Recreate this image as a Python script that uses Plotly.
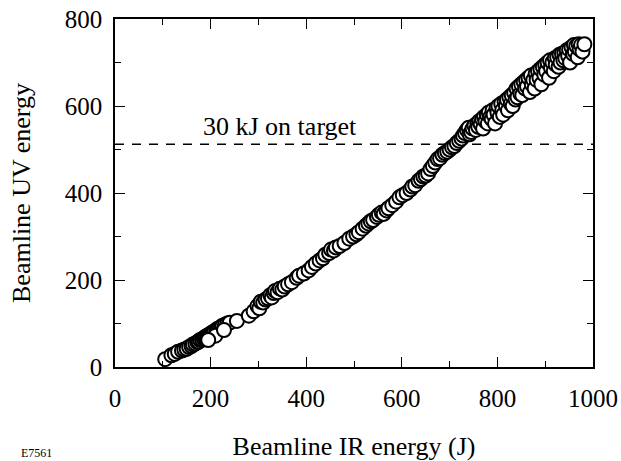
import plotly.graph_objects as go

ir_energy = [105, 118, 125, 132, 140, 145, 150, 155, 160, 163, 168, 172, 175, 178, 182, 185, 188, 190, 193, 196,
             199, 202, 205, 208, 212, 215, 218, 222, 225, 230, 235, 240, 255, 210, 228, 195,
             280, 290, 298, 302, 305, 310, 315, 320, 325, 328, 332, 335, 340, 345, 350, 355, 362, 370, 380, 385,
             395, 405, 412, 420, 428, 435, 440, 448, 452, 458, 462, 470, 480, 490, 498, 505, 510, 518, 525, 530,
             535, 540, 548, 552, 558, 562, 568, 572, 580, 588, 595, 602, 610, 618, 622, 628, 635, 640, 645, 650,
             655, 660, 665, 670, 675, 680, 685, 690, 695, 700, 705, 710, 715, 720, 725, 728, 732, 736, 740, 742,
             745, 748, 752, 755, 758, 760, 762, 765, 768, 770, 772, 775, 778, 780, 782, 785, 788, 790, 792, 795,
             798, 800, 802, 805, 808, 810, 812, 815, 818, 820, 822, 825, 828, 830, 832, 835, 838, 840, 842, 845,
             848, 850, 852, 855, 858, 860, 862, 865, 868, 870, 872, 875, 878, 880, 882, 885, 888, 890, 892, 895,
             898, 900, 902, 905, 908, 910, 912, 915, 918, 920, 922, 925, 928, 930, 932, 935, 938, 940, 942, 945,
             948, 950, 952, 955, 958, 960, 962, 965, 968, 970, 972, 975, 978, 982, 1005]

uv_energy = [18, 27, 30, 35, 38, 40, 42, 46, 48, 52, 54, 57, 58, 62, 63, 66, 68, 70, 72, 73,
             76, 78, 80, 82, 85, 88, 88, 92, 95, 97, 100, 102, 106, 72, 85, 62,
             118, 128, 140, 135, 150, 148, 155, 158, 165, 160, 170, 175, 172, 180, 178, 185, 190, 195, 205, 210,
             215, 222, 230, 238, 245, 250, 258, 262, 270, 268, 275, 278, 285, 295, 300, 305, 310, 318, 325, 330,
             335, 338, 345, 350, 355, 352, 360, 365, 372, 380, 390, 395, 400, 408, 415, 418, 428, 432, 438, 440,
             445, 455, 462, 470, 478, 480, 488, 492, 495, 500, 505, 508, 515, 520, 525, 532, 538, 545, 550, 535,
             540, 548, 555, 545, 560, 552, 565, 558, 570, 548, 575, 565, 580, 560, 585, 575, 570, 590, 580, 560,
             595, 585, 600, 575, 605, 590, 580, 610, 600, 615, 590, 620, 605, 625, 600, 630, 615, 640, 620, 645,
             628, 650, 625, 655, 640, 660, 645, 665, 632, 670, 650, 660, 640, 675, 660, 680, 665, 685, 650, 690,
             672, 695, 680, 700, 665, 705, 688, 700, 680, 710, 695, 712, 690, 718, 700, 720, 705, 722, 710, 728,
             715, 730, 700, 735, 720, 740, 725, 738, 712, 742, 730, 740, 725, 742, 735]

threshold_uv = 512
x_ticks = [0, 200, 400, 600, 800, 1000]
y_ticks = [0, 200, 400, 600, 800]

serif = "Liberation Serif"

fig = go.Figure()
fig.add_trace(go.Scatter(
    x=ir_energy, y=uv_energy, mode="markers", cliponaxis=False,
    marker=dict(size=14, color="white", line=dict(color="black", width=2)),
    showlegend=False, hoverinfo="x+y"))

fig.add_shape(type="line", xref="x", yref="y", x0=0, x1=1000, y0=threshold_uv, y1=threshold_uv,
              line=dict(color="black", width=1.5, dash="9px,8px"), layer="below")

fig.add_annotation(x=180, y=552, xref="x", yref="y", text="30 kJ on target", showarrow=False,
                   xanchor="left", yanchor="middle", font=dict(family=serif, size=26, color="black"))

fig.add_annotation(x=-0.199, y=-0.27, xref="paper", yref="paper", text="E7561", showarrow=False,
                   xanchor="left", yanchor="bottom", borderpad=0, font=dict(family=serif, size=12, color="black"))

axis_common = dict(showline=True, linecolor="black", linewidth=1.5, mirror="ticks", ticks="inside",
                   ticklen=10, tickwidth=1.3, tickcolor="black", showgrid=False, zeroline=False,
                   tickfont=dict(family=serif, size=25, color="black"),
                   minor=dict(ticks="inside", ticklen=6, tickwidth=1.3, tickcolor="black", dtick=100, showgrid=False),
                   automargin=False)

fig.update_xaxes(range=[0, 1000], tickvals=x_ticks, ticklabelstandoff=8,
                 title=dict(text="Beamline IR energy (J)", font=dict(family=serif, size=26, color="black"), standoff=28),
                 **axis_common)
fig.update_yaxes(range=[0, 800], tickvals=y_ticks, ticklabelstandoff=6,
                 title=dict(text="Beamline UV energy", font=dict(family=serif, size=26, color="black"), standoff=27),
                 **axis_common)

fig.update_layout(width=621, height=461, margin=dict(l=115, r=28, t=19, b=94),
                  plot_bgcolor="white", paper_bgcolor="white")

fig.write_html("out.html")
